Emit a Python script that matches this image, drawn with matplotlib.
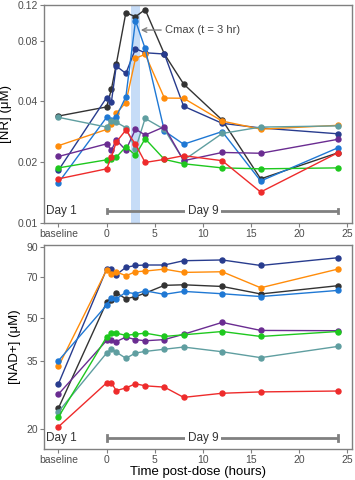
import matplotlib.pyplot as plt
from matplotlib.ticker import NullLocator

plt.rcParams['font.family'] = ['Liberation Sans', 'DejaVu Sans']

# time points (baseline drawn at x = -5)
times = [-5, 0, 0.5, 1, 2, 3, 4, 6, 8, 12, 16, 24]
subjects = ['black', 'navy', 'orange', 'blue', 'teal', 'purple', 'green', 'red']
colors = {'black': '#333333', 'navy': '#283c8e', 'orange': '#ff8c0a', 'blue': '#1f78d4',
          'teal': '#5f9ea0', 'purple': '#6a2c91', 'green': '#1ec81e', 'red': '#ee2b2b'}

# [NR] (uM)
nr_black = [0.0338, 0.0375, 0.046, 0.061, 0.110, 0.105, 0.114, 0.0686, 0.0487, 0.0323, 0.0165, 0.0222]
nr_navy = [0.0182, 0.0417, 0.0398, 0.0598, 0.0550, 0.0729, 0.0696, 0.0686, 0.0378, 0.0311, 0.0295, 0.0276]
nr_orange = [0.0241, 0.0290, 0.0310, 0.0349, 0.0394, 0.0653, 0.0684, 0.0415, 0.0414, 0.0319, 0.0291, 0.0304]
nr_blue = [0.0158, 0.0333, 0.0323, 0.0335, 0.0421, 0.1003, 0.0731, 0.0285, 0.0245, 0.0283, 0.0161, 0.0235]
nr_teal = [0.0333, 0.0298, 0.0320, 0.0315, 0.0296, 0.0232, 0.0329, 0.0290, 0.0204, 0.0277, 0.0298, 0.0302]
nr_purple = [0.0213, 0.0246, 0.0229, 0.0257, 0.0229, 0.0291, 0.0272, 0.0299, 0.0203, 0.0223, 0.0221, 0.0259]
nr_green = [0.0187, 0.0205, 0.0206, 0.0211, 0.0238, 0.0216, 0.0261, 0.0206, 0.0196, 0.0187, 0.0185, 0.0187]
nr_red = [0.0165, 0.0185, 0.0212, 0.0251, 0.0288, 0.0245, 0.0199, 0.0206, 0.0215, 0.0203, 0.0142, 0.0222]

# [NAD+] (uM)
nad_black = [23.8, 57.0, 58.2, 61.7, 58.7, 59.8, 61.5, 65.6, 65.9, 65.0, 61.1, 65.4]
nad_navy = [29.1, 75.0, 75.0, 71.6, 76.1, 77.3, 77.6, 77.6, 80.4, 80.9, 77.3, 82.4]
nad_orange = [33.6, 74.5, 72.0, 73.4, 71.0, 73.4, 73.8, 75.0, 73.0, 73.4, 64.3, 75.0]
nad_blue = [35.2, 55.7, 59.2, 58.6, 62.0, 61.2, 62.7, 60.9, 62.4, 61.2, 59.8, 62.9]
nad_teal = [23.1, 37.5, 38.8, 37.8, 35.9, 37.5, 38.0, 38.7, 39.4, 37.9, 36.1, 39.6]
nad_purple = [26.7, 41.6, 41.6, 41.2, 42.8, 41.9, 41.5, 41.9, 43.8, 48.3, 45.2, 45.1]
nad_green = [22.1, 42.8, 44.2, 44.2, 43.4, 43.8, 44.2, 43.0, 43.6, 44.8, 43.0, 44.8]
nad_red = [20.4, 29.3, 29.3, 27.5, 28.1, 29.1, 28.6, 28.3, 26.0, 26.9, 27.2, 27.4]

nr = {'black': nr_black, 'navy': nr_navy, 'orange': nr_orange, 'blue': nr_blue,
      'teal': nr_teal, 'purple': nr_purple, 'green': nr_green, 'red': nr_red}
nad = {'black': nad_black, 'navy': nad_navy, 'orange': nad_orange, 'blue': nad_blue,
       'teal': nad_teal, 'purple': nad_purple, 'green': nad_green, 'red': nad_red}

xticks = [-5, 0, 5, 10, 15, 20, 25]
xticklabels = ['baseline', '0', '5', '10', '15', '20', '25']
nr_ticks = [0.01, 0.02, 0.04, 0.08, 0.12]
nad_ticks = [20, 35, 50, 70, 90]

gray = '#808080'

fig = plt.figure(figsize=(3.55, 4.8), dpi=100)
ax1 = fig.add_axes([0.124, 0.536, 0.868, 0.4535])
ax2 = fig.add_axes([0.124, 0.065, 0.868, 0.425])


def style(ax, yticks, ylabels):
    ax.set_yscale('log')
    ax.set_xlim(-6.5, 25.5)
    ax.set_xticks(xticks)
    ax.set_xticklabels(xticklabels)
    ax.set_yticks(yticks)
    ax.set_yticklabels(ylabels)
    ax.yaxis.set_minor_locator(NullLocator())
    for s in ax.spines.values():
        s.set_color(gray)
        s.set_linewidth(1.0)
    ax.tick_params(colors=gray, labelcolor='#4d4d4d', labelsize=7.5, length=3, pad=1.5)


def day_bracket(ax, yval):
    ax.plot([0, 24], [yval, yval], color=gray, lw=2, zorder=1, solid_capstyle='butt')
    ax.plot([0, 0], [yval * 0.975, yval * 1.025], color=gray, lw=2, zorder=1)
    ax.plot([24, 24], [yval * 0.975, yval * 1.025], color=gray, lw=2, zorder=1)
    ax.text(10, yval, 'Day 9', ha='center', va='center', fontsize=8.5, color='#333333',
            bbox=dict(facecolor='white', edgecolor='none', pad=2), zorder=2)
    ax.text(-6.25, yval, 'Day 1', ha='left', va='center', fontsize=8.5, color='#333333')


# top panel: NR
ax1.axvspan(2.55, 3.5, color='#c6dcf7', lw=0, zorder=0)
for s in subjects:
    ax1.plot(times, nr[s], color=colors[s], marker='o', ms=3.6, lw=1, zorder=3)
ax1.set_ylim(0.01, 0.12)
style(ax1, nr_ticks, ['0.01', '0.02', '0.04', '0.08', '0.12'])
ax1.set_ylabel('[NR] (μM)', fontsize=9.5, labelpad=4)
day_bracket(ax1, 0.01142)
ax1.annotate('Cmax (t = 3 hr)', xy=(3.55, 0.0902), xytext=(6.1, 0.0902),
             va='center', fontsize=8, color='#444444',
             arrowprops=dict(arrowstyle='->', color=gray, lw=1, shrinkA=1, shrinkB=0))

# bottom panel: NAD+
for s in subjects:
    ax2.plot(times, nad[s], color=colors[s], marker='o', ms=3.6, lw=1, zorder=3)
ax2.set_ylim(17.0, 91.7)
style(ax2, nad_ticks, ['20', '35', '50', '70', '90'])
ax2.set_ylabel('[NAD+] (μM)', fontsize=9.5, labelpad=4)
ax2.set_xlabel('Time post-dose (hours)', fontsize=9.5)
ax2.xaxis.set_label_coords(0.5, -0.082)
day_bracket(ax2, 18.57)

plt.savefig('out.png', dpi=100)
